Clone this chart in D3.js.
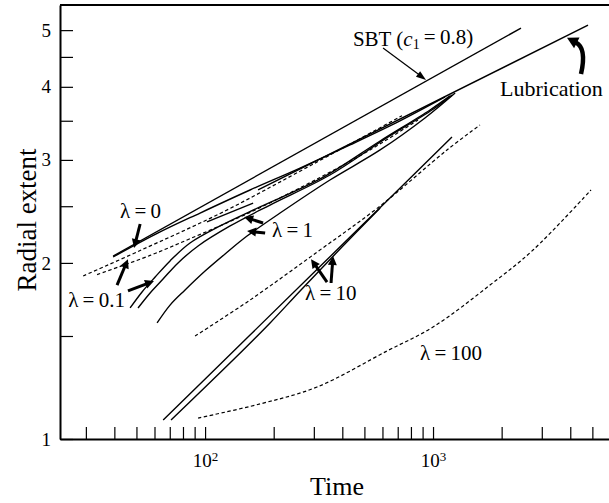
<!DOCTYPE html>
<html>
<head>
<meta charset="utf-8">
<script src="https://cdn.jsdelivr.net/npm/d3@7/dist/d3.min.js"></script>
<style>
body { margin: 0; background: #fff; }
svg { font-family: "Liberation Serif", "Times New Roman", serif; }
</style>
</head>
<body>
<svg id="chart" width="609" height="503"></svg>
<script>
// axis ticks
var xTicks = [30, 40, 50, 60, 70, 80, 90, 100, 200, 300, 400, 500, 600, 700, 800, 900, 1000, 2000, 3000, 4000, 5000];
var xLabelExp = {100: '2', 1000: '3'};
var yTicks = [1, 1.5, 2, 2.5, 3, 3.5, 4, 4.5, 5];

// curves, [time, radial extent]
var sbtLine = [[39.5, 2.055], [2432, 5.04]];
var lubricationLine = [[170.8, 2.665], [4786, 5.10]];

var lam0Solid = [[39.5, 2.047], [63.5, 2.259], [95.1, 2.434], [157.5, 2.665], [261, 2.905], [432.5, 3.182], [716, 3.498], [1129, 3.844]];
var lam0Dash = [[29.2, 1.90], [51.9, 2.10], [116.4, 2.43], [261, 2.87], [731, 3.57]];

var lam01Dash = [[33.6, 1.91], [57.4, 2.06], [85.9, 2.20], [157.5, 2.44], [319.5, 2.80], [529, 3.12], [859, 3.51]];
var lam01SolidA = [[46.9, 1.675], [52.9, 1.784], [60.4, 1.892], [70.2, 2.016], [85.9, 2.163], [116.4, 2.313], [174.2, 2.493], [319.5, 2.783], [586, 3.232], [970, 3.651], [1187, 3.859]];
var lam01SolidB = [[50.8, 1.675], [57.4, 1.777], [65.4, 1.877], [76.1, 2.000], [93.2, 2.138], [128.8, 2.313], [192.8, 2.512], [353, 2.827], [616, 3.258], [1020, 3.680], [1211, 3.873]];

var lam1Solid = [[61.6, 1.579], [70.2, 1.694], [81.7, 1.798], [100, 1.937], [122.4, 2.072], [152.8, 2.223], [213.3, 2.434], [353, 2.772], [586, 3.12], [922, 3.539], [1250, 3.904]];
var lam1Short = [[102, 2.35], [162.5, 2.53]];

var lam10SolidA = [[65.5, 1.078], [157.5, 1.506], [432.5, 2.214], [1211, 3.282]];
var lam10SolidB = [[70.9, 1.078], [95.1, 1.203], [135.4, 1.375], [192.8, 1.579], [261, 1.791], [390.9, 2.112], [586, 2.482]];
var lam10Dash = [[90.4, 1.50], [157.5, 1.728], [309.8, 2.087], [586, 2.502], [1151, 3.119], [1607, 3.442]];

var lam100Dash = [[93.2, 1.086], [174.2, 1.148], [309.8, 1.227], [628, 1.414], [1000, 1.554], [1778, 1.833], [2746, 2.104], [4932, 2.665]];

var solidCurves = [sbtLine, lubricationLine, lam0Solid, lam01SolidA, lam01SolidB, lam1Solid, lam1Short, lam10SolidA, lam10SolidB];
var dashedCurves = [lam0Dash, lam01Dash, lam10Dash, lam100Dash];

// labels, anchored at [time, radial extent] (left / baseline)
var lamLabels = [
    {text: '0', at: [42.4, 2.387]},
    {text: '0.1', at: [25.1, 1.681]},
    {text: '1', at: [196.7, 2.214]},
    {text: '10', at: [274.6, 1.728]},
    {text: '100', at: [877, 1.365]}
];

// arrows [from, to]
var boldArrows = [
    [[51.9, 2.331], [48.8, 2.121]],
    [[41.1, 1.833], [45.9, 2.03]],
    [[45.9, 1.791], [59.7, 1.862]],
    [[179.6, 2.340], [148.3, 2.396]],
    [[183.4, 2.249], [152.8, 2.268]],
    [[342.8, 1.855], [291.6, 2.03]],
    [[357, 1.848], [364.2, 2.055]]
];
var sbtArrow = [[603.6, 4.66], [932, 4.11]];
var lubArrow = [[4458, 4.207], [4731, 4.66], [3870, 4.85]];

(function() {
    var svg = d3.select('#chart');
    var width = 609, height = 503;

    var x = d3.scaleLog().domain([23.1, 5915]).range([60, 609]);
    var y = d3.scaleLog().domain([1, 5.52]).range([439, 5]);

    svg.append('rect').attr('width', width).attr('height', height).style('fill', '#fff');

    // axes
    var xAxis = d3.axisBottom(x)
        .tickValues(xTicks)
        .tickSizeInner(-12)
        .tickSizeOuter(0)
        .tickPadding(15)
        .tickFormat(function(d) { return ''; });
    var gx = svg.append('g').attr('transform', 'translate(0,439)').call(xAxis);

    var yAxis = d3.axisLeft(y)
        .tickValues(yTicks)
        .tickSizeInner(-13)
        .tickSizeOuter(0)
        .tickPadding(9)
        .tickFormat(function(d) { return Number.isInteger(d) ? d : ''; });
    var gy = svg.append('g').attr('transform', 'translate(60,0)').call(yAxis);

    [gx, gy].forEach(function(g) {
        g.select('.domain').style('stroke', '#000').style('stroke-width', 2);
        g.selectAll('.tick line').style('stroke', '#000').style('stroke-width', 1.2);
        g.selectAll('.tick text').style('font-family', '"Liberation Serif", serif').style('font-size', '19px').style('fill', '#000');
    });

    gx.selectAll('.tick text').each(function(d) {
        if (xLabelExp[d]) {
            var t = d3.select(this);
            t.append('tspan').text('10');
            t.append('tspan').text(xLabelExp[d]).attr('dy', '-0.5em').style('font-size', '13px');
        }
    });

    // top frame line
    svg.append('line')
        .attr('x1', x.range()[0]).attr('x2', x.range()[1])
        .attr('y1', y.range()[1]).attr('y2', y.range()[1])
        .style('stroke', '#000').style('stroke-width', 2);

    // axis titles
    svg.append('text')
        .attr('x', 337).attr('y', 495)
        .attr('text-anchor', 'middle')
        .style('font-size', '26px')
        .text('Time');
    svg.append('text')
        .attr('transform', 'translate(36,220) rotate(-90)')
        .attr('text-anchor', 'middle')
        .style('font-size', '27px')
        .text('Radial extent');

    // curves
    var line = d3.line()
        .x(function(d) { return x(d[0]); })
        .y(function(d) { return y(d[1]); })
        .curve(d3.curveCatmullRom.alpha(0.5));

    svg.selectAll('path.solid').data(solidCurves).enter().append('path')
        .attr('class', 'solid')
        .attr('d', line)
        .style('fill', 'none')
        .style('stroke', '#000')
        .style('stroke-width', 1.4);

    svg.selectAll('path.dashed').data(dashedCurves).enter().append('path')
        .attr('class', 'dashed')
        .attr('d', line)
        .style('fill', 'none')
        .style('stroke', '#000')
        .style('stroke-width', 1.2)
        .style('stroke-dasharray', '3.5,2.5');

    // arrows
    function arrow(p0, p1, w, len, half) {
        var x0 = x(p0[0]), y0 = y(p0[1]), x1 = x(p1[0]), y1 = y(p1[1]);
        var dx = x1 - x0, dy = y1 - y0, L = Math.sqrt(dx*dx + dy*dy);
        var ux = dx / L, uy = dy / L;
        var bx = x1 - ux*len, by = y1 - uy*len;
        svg.append('line')
            .attr('x1', x0).attr('y1', y0).attr('x2', bx + ux).attr('y2', by + uy)
            .style('stroke', '#000').style('stroke-width', w);
        svg.append('path')
            .attr('d', 'M' + x1 + ',' + y1 + 'L' + (bx - uy*half) + ',' + (by + ux*half) + 'L' + (bx + uy*half) + ',' + (by - ux*half) + 'Z')
            .style('fill', '#000');
    }
    boldArrows.forEach(function(a) { arrow(a[0], a[1], 3, 9, 4.5); });
    arrow(sbtArrow[0], sbtArrow[1], 1.2, 10, 3.5);

    // curved lubrication arrow
    var lx0 = x(lubArrow[0][0]), ly0 = y(lubArrow[0][1]);
    var lcx = x(lubArrow[1][0]), lcy = y(lubArrow[1][1]);
    var lx1 = x(lubArrow[2][0]), ly1 = y(lubArrow[2][1]);
    var hx = lx1 - lcx, hy = ly1 - lcy, hl = Math.sqrt(hx*hx + hy*hy);
    hx /= hl; hy /= hl;
    var lbx = lx1 - hx*11, lby = ly1 - hy*11;
    svg.append('path')
        .attr('d', 'M' + lx0 + ',' + ly0 + 'Q' + lcx + ',' + lcy + ' ' + (lbx + hx) + ',' + (lby + hy))
        .style('fill', 'none').style('stroke', '#000').style('stroke-width', 4.5);
    svg.append('path')
        .attr('d', 'M' + lx1 + ',' + ly1 + 'L' + (lbx - hy*6) + ',' + (lby + hx*6) + 'L' + (lbx + hy*6) + ',' + (lby - hx*6) + 'Z')
        .style('fill', '#000');

    // labels
    var ann = svg.append('g').style('font-size', '21px').style('fill', '#000');
    lamLabels.forEach(function(l) {
        ann.append('text')
            .attr('x', x(l.at[0])).attr('y', y(l.at[1]))
            .text('\u03bb\u2009=\u2009' + l.text);
    });

    var sbt = ann.append('text').attr('x', x(817)).attr('y', y(4.70)).attr('text-anchor', 'middle');
    sbt.append('tspan').text('SBT (');
    sbt.append('tspan').text('c').style('font-style', 'italic');
    sbt.append('tspan').text('1').attr('dy', '0.25em').style('font-size', '14px');
    sbt.append('tspan').text('\u2009=\u20090.8)').attr('dy', '-0.25em');

    ann.append('text')
        .attr('x', x(1967)).attr('y', y(3.86))
        .style('font-size', '22px')
        .text('Lubrication');
})();
</script>
</body>
</html>
